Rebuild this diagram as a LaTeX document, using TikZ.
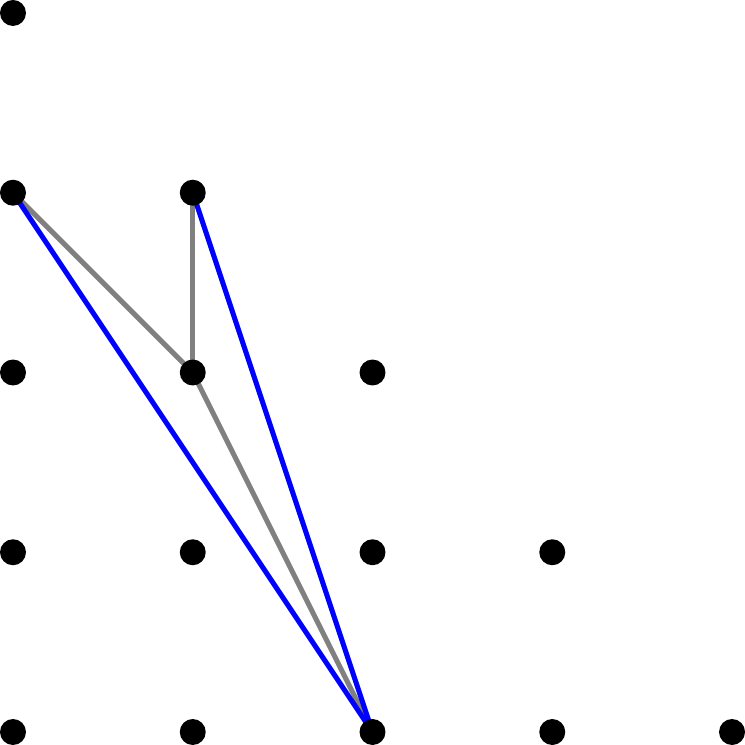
\documentclass[tikz,border=0pt]{standalone}
\usetikzlibrary{backgrounds}
\tikzset{
  dot/.style={circle, fill=black, inner sep=0pt, minimum size=0.289cm},
  edge/.style={line width=1.6pt, gray},
  path/.style={line width=1.6pt, blue}
}
\begin{document}
\begin{tikzpicture}
\useasboundingbox (-0.1445,-0.1445) rectangle (8.1445,8.1445);
\foreach \j in {0,...,4} {
  \pgfmathtruncatemacro{\last}{4-\j}
  \foreach \i in {0,...,\last} {
    \node[dot] (d\i\j) at (2*\i,2*\j) {};
  }
}
\begin{scope}[on background layer]
\draw[edge] (d03.center) -- (d12.center);
\draw[edge] (d13.center) -- (d12.center);
\draw[edge] (d12.center) -- (d20.center);
\draw[path] (d03.center) -- (d20.center);
\draw[path] (d13.center) -- (d20.center);
\end{scope}
\end{tikzpicture}
\end{document}
